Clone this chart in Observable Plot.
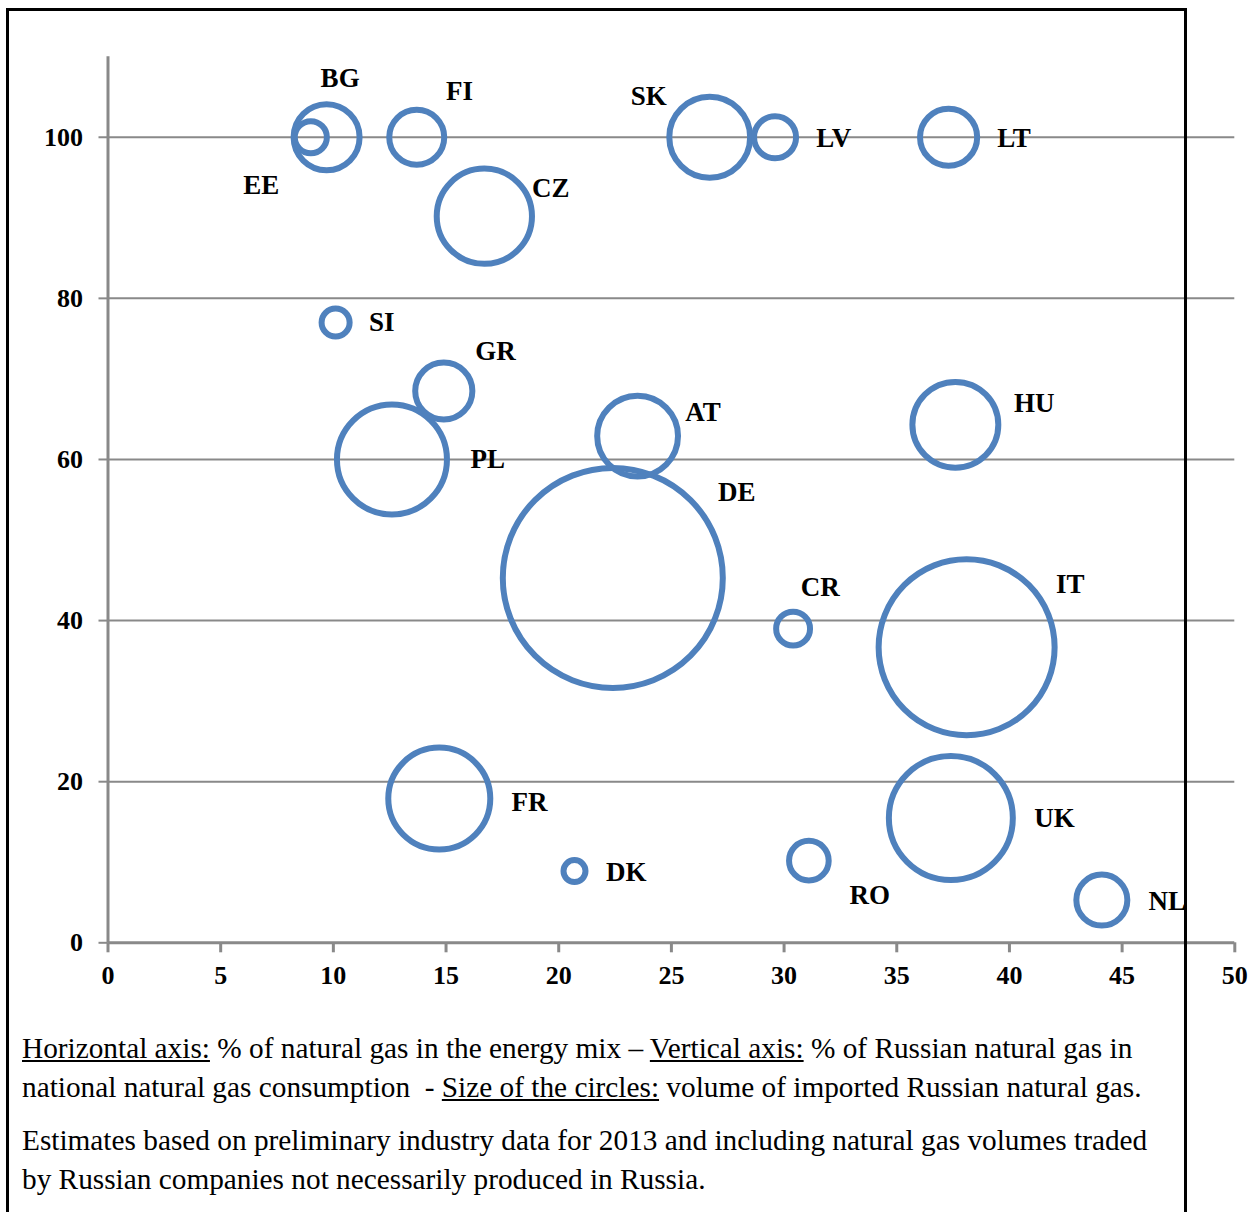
<!DOCTYPE html>
<html>
<head>
<meta charset="utf-8">
<script src="https://cdn.jsdelivr.net/npm/d3@7"></script>
<script src="https://cdn.jsdelivr.net/npm/@observablehq/plot@0.6"></script>
<style>
  html, body { margin: 0; padding: 0; background: #fff; }
  body { width: 1260px; height: 1212px; position: relative; overflow: hidden; }
  #chart { position: absolute; left: 0; top: 0; z-index: 1; }
  #frame { position: absolute; left: 6px; top: 8px; width: 1181px; height: 1260px; border: 3px solid #000; box-sizing: border-box; z-index: 2; pointer-events: none; }
  #caption { position: absolute; left: 22px; top: 1029px; z-index: 3; font-family: "Liberation Serif", "Times New Roman", serif; font-size: 29.3px; line-height: 39px; color: #000; white-space: nowrap; }
  #caption p { margin: 0 0 14px 0; }
  #caption u { text-decoration: underline; }
</style>
</head>
<body>
<div id="chart"></div>
<div id="frame"></div>
<div id="caption">
  <p><u>Horizontal axis:</u> % of natural gas in the energy mix – <u>Vertical axis:</u> % of Russian natural gas in<br>national natural gas consumption&nbsp; - <u>Size of the circles:</u> volume of imported Russian natural gas.</p>
  <p>Estimates based on preliminary industry data for 2013 and including natural gas volumes traded<br>by Russian companies not necessarily produced in Russia.</p>
</div>
<script>
// Country codes
const countries = ["EE","BG","FI","CZ","SK","LV","LT","SI","GR","PL","AT","HU","DE","CR","IT","FR","DK","RO","UK","NL"];
// % of natural gas in the energy mix (horizontal)
const gasShare = [9.0, 9.7, 13.7, 16.7, 26.7, 29.6, 37.3, 10.1, 14.9, 12.6, 23.5, 37.6, 22.4, 30.4, 38.1, 14.7, 20.7, 31.1, 37.4, 44.1];
// % of Russian gas in national gas consumption (vertical)
const russianShare = [100, 100, 100, 90.2, 100, 100, 100, 77.0, 68.5, 60.0, 62.9, 64.3, 45.3, 39.0, 36.7, 17.9, 8.9, 10.2, 15.5, 5.3];
// Volume of imported Russian gas (bcm, estimated from circle area)
const volume = [0.85, 3.6, 2.5, 7.5, 5.4, 1.46, 2.7, 0.65, 2.7, 10.0, 5.4, 6.1, 40.0, 0.95, 25.6, 8.6, 0.4, 1.3, 12.7, 2.15];
// Label anchor points (data units)
const labelX = [6.8, 10.3, 15.6, 19.65, 24.0, 32.2, 40.2, 12.15, 17.2, 16.85, 26.4, 41.1, 27.9, 31.6, 42.7, 18.7, 23.0, 33.8, 42.0, 47.0];
const labelY = [94.0, 107.3, 105.7, 93.7, 105.05, 99.9, 99.9, 77.0, 73.4, 60.0, 65.9, 67.0, 55.9, 44.1, 44.5, 17.4, 8.7, 5.9, 15.5, 5.1];
// Tick values
const xTicks = [0, 5, 10, 15, 20, 25, 30, 35, 40, 45, 50];
const yTicks = [0, 20, 40, 60, 80, 100];

const data = countries.map((c, i) => ({
  country: c, x: gasShare[i], y: russianShare[i], v: volume[i], lx: labelX[i], ly: labelY[i]
}));

const grey = "#898989";
const blue = "#4f81bd";

const chart = Plot.plot({
  width: 1260,
  height: 1000,
  marginLeft: 107.5,
  marginRight: 25.7,
  marginTop: 56.2,
  marginBottom: 57.7,
  x: {domain: [0, 50]},
  y: {domain: [0, 110]},
  r: {type: "sqrt", domain: [0, 40], range: [0, 110]},
  style: {fontFamily: "'Liberation Serif', 'Times New Roman', serif", fontSize: "26px", fontWeight: "bold", color: "#000", background: "transparent", overflow: "visible"},
  marks: [
    Plot.gridY(yTicks.filter(d => d > 0), {stroke: grey, strokeOpacity: 1, strokeWidth: 2}),
    Plot.axisY(yTicks, {tickSize: 9, tickPadding: 16, stroke: grey, strokeWidth: 2, fill: "#000", label: null, fontSize: 26, fontWeight: "bold"}),
    Plot.axisX(xTicks, {tickSize: 10, tickPadding: 13, stroke: grey, strokeWidth: 3, fill: "#000", label: null, fontSize: 26, fontWeight: "bold"}),
    Plot.ruleX([0], {y1: 0, y2: 110, stroke: grey, strokeWidth: 3}),
    Plot.ruleY([0], {stroke: grey, strokeWidth: 3}),
    Plot.dot(data, {x: "x", y: "y", r: "v", stroke: blue, strokeWidth: 6, fill: "none"}),
    Plot.text(data, {x: "lx", y: "ly", text: "country", fontSize: 27, fontWeight: "bold", fill: "#000"})
  ]
});
document.getElementById("chart").appendChild(chart);
</script>
</body>
</html>
